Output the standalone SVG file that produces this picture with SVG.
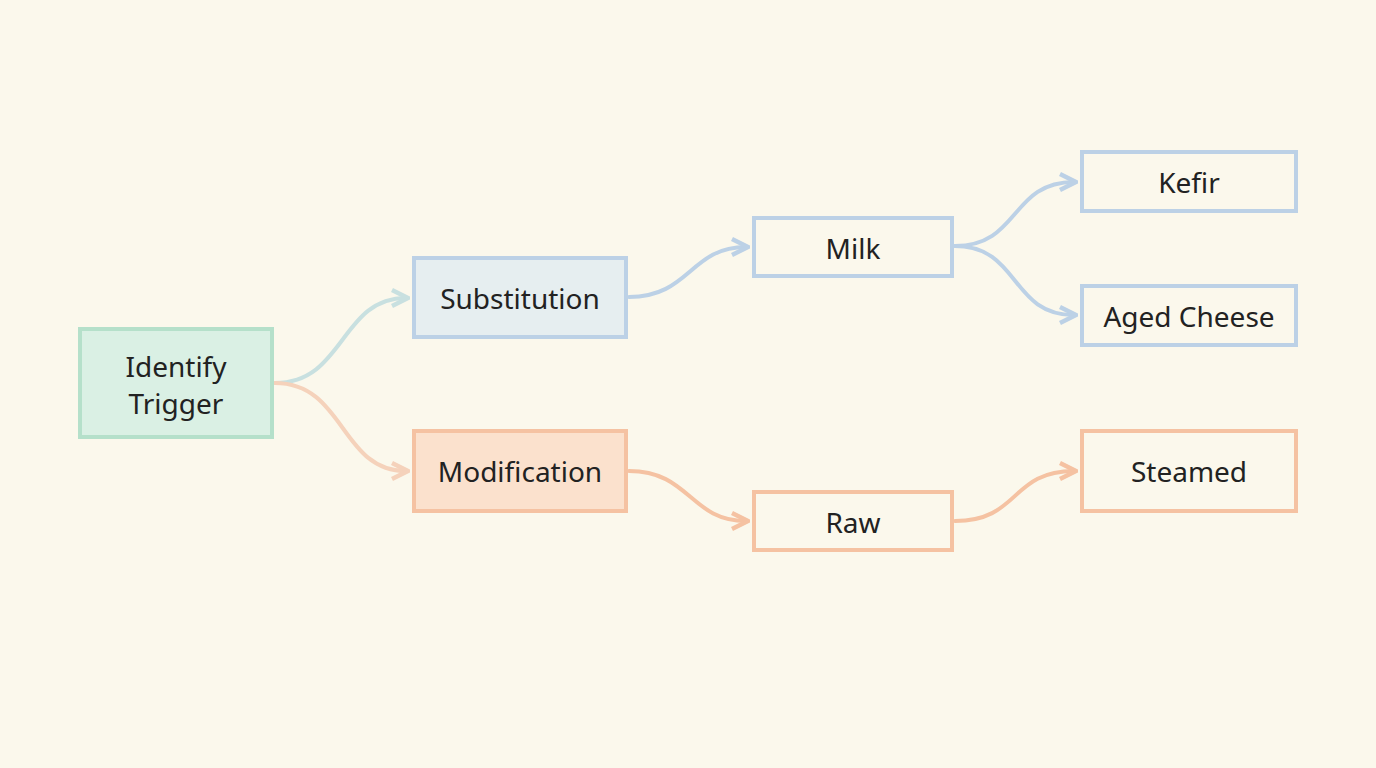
<svg xmlns="http://www.w3.org/2000/svg" width="1376" height="768" viewBox="0 0 1376 768">
<style>
text{font-family:"Noto Sans","Open Sans",sans-serif;font-size:28px;fill:#222;text-anchor:middle;dominant-baseline:central}
.b{stroke-width:4;fill:none}
.blue{stroke:#bcd1e6}
.or{stroke:#f5c2a2}
.c{fill:none;stroke-width:4;stroke-linecap:round}
</style>
<defs>
<marker id="ab" viewBox="0 0 10 10" refX="8" refY="5" markerWidth="5" markerHeight="5" orient="auto"><path d="M1,1 L9,5 L1,9" fill="none" stroke="#bcd1e6" stroke-width="2.2"/></marker>
<marker id="ao" viewBox="0 0 10 10" refX="8" refY="5" markerWidth="5" markerHeight="5" orient="auto"><path d="M1,1 L9,5 L1,9" fill="none" stroke="#f5c2a2" stroke-width="2.2"/></marker>
<marker id="ag" viewBox="0 0 10 10" refX="8" refY="5" markerWidth="5" markerHeight="5" orient="auto"><path d="M1,1 L9,5 L1,9" fill="none" stroke="#c8e0e0" stroke-width="2.2"/></marker>
<marker id="ap" viewBox="0 0 10 10" refX="8" refY="5" markerWidth="5" markerHeight="5" orient="auto"><path d="M1,1 L9,5 L1,9" fill="none" stroke="#f5d2bb" stroke-width="2.2"/></marker>
</defs>
<rect width="1376" height="768" fill="#fbf8ec"/>
<g id="connectors">
<path class="c" d="M275,383 C345,383 340,298 406,298" stroke="#c8e0e0" marker-end="url(#ag)"/>
<path class="c" d="M275,383 C345,383 340,471 406,471" stroke="#f5d2bb" marker-end="url(#ap)"/>
<path class="c" d="M629,297 C690,297 690,247 746,247" stroke="#bcd1e6" marker-end="url(#ab)"/>
<path class="c" d="M629,471 C690,471 690,521 746,521" stroke="#f5c2a2" marker-end="url(#ao)"/>
<path class="c" d="M955,246 C1020,246 1010,182 1074,182" stroke="#bcd1e6" marker-end="url(#ab)"/>
<path class="c" d="M955,246 C1020,246 1010,315 1074,315" stroke="#bcd1e6" marker-end="url(#ab)"/>
<path class="c" d="M955,521 C1020,521 1010,471 1074,471" stroke="#f5c2a2" marker-end="url(#ao)"/>
</g>
<g id="identify"><rect x="80" y="329" width="192" height="108" fill="#daf0e4" stroke="#b5e0ca" stroke-width="4"/><text x="176" y="366">Identify</text><text x="176" y="403">Trigger</text></g>
<g id="substitution"><rect x="414" y="258" width="212" height="79" class="b blue" style="fill:#e6eef0"/><text x="520" y="298">Substitution</text></g>
<g id="modification"><rect x="414" y="431" width="212" height="80" class="b or" style="fill:#fbe1cd"/><text x="520" y="471">Modification</text></g>
<g id="milk"><rect x="754" y="218" width="198" height="58" class="b blue"/><text x="853" y="248">Milk</text></g>
<g id="raw"><rect x="754" y="492" width="198" height="58" class="b or"/><text x="853" y="522">Raw</text></g>
<g id="kefir"><rect x="1082" y="152" width="214" height="59" class="b blue"/><text x="1189" y="182">Kefir</text></g>
<g id="aged"><rect x="1082" y="286" width="214" height="59" class="b blue"/><text x="1189" y="316">Aged Cheese</text></g>
<g id="steamed"><rect x="1082" y="431" width="214" height="80" class="b or"/><text x="1189" y="471">Steamed</text></g>
</svg>
